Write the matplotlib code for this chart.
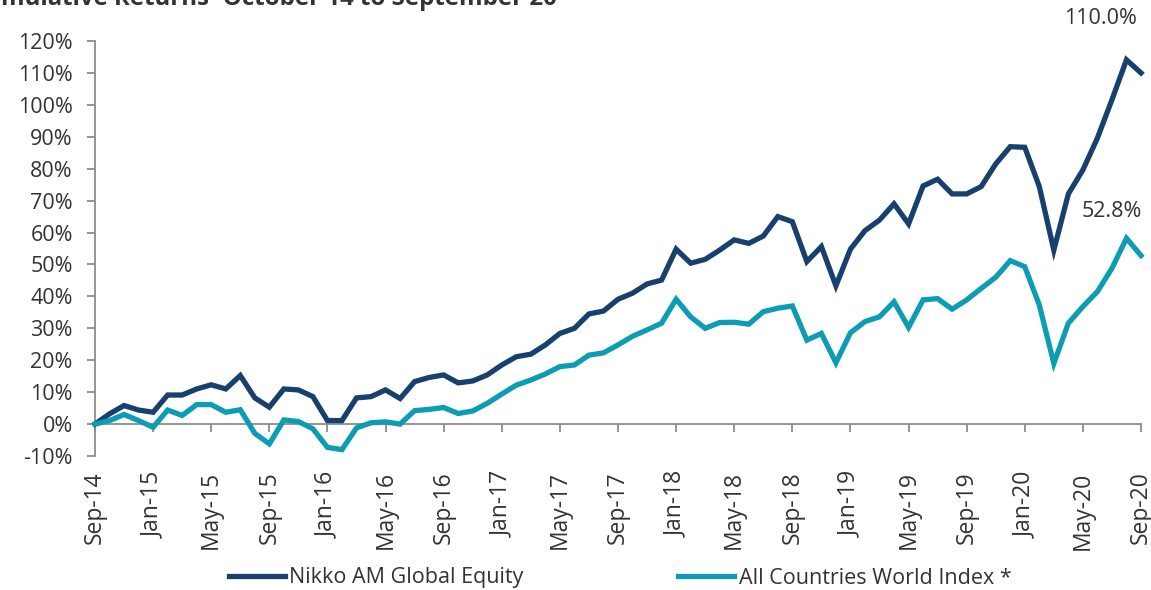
import numpy as np
import pandas as pd
import matplotlib
matplotlib.use("Agg")
import matplotlib.pyplot as plt
from matplotlib.ticker import FixedLocator, FuncFormatter

plt.rcParams['font.family'] = ['Open Sans', 'DejaVu Sans']

months = pd.date_range("2014-09-01", "2020-09-01", freq="MS")
month_labels = [d.strftime("%b-%y") for d in months]

nikko = [0.0, 3.2, 5.8, 4.4, 3.7, 9.1, 9.1, 11.0, 12.3, 11.0, 15.2, 8.2, 5.3,
         11.0, 10.7, 8.6, 1.1, 1.1, 8.2, 8.6, 10.7, 8.0, 13.3, 14.6, 15.4,
         12.9, 13.5, 15.4, 18.5, 21.1, 21.9, 24.8, 28.4, 30.0, 34.5, 35.4,
         39.1, 41.0, 43.9, 45.1, 54.8, 50.4, 51.6, 54.5, 57.7, 56.6, 58.9,
         65.0, 63.4, 50.9, 55.6, 43.3, 54.8, 60.6, 63.9, 69.0, 62.7, 74.6,
         76.7, 72.1, 72.1, 74.4, 81.5, 86.9, 86.7, 74.4, 54.5, 72.1, 79.6,
         89.6, 101.6, 114.1, 110.0]
acwi = [0.0, 1.1, 3.0, 1.1, -1.0, 4.4, 2.7, 6.1, 6.1, 3.7, 4.5, -2.9, -6.2,
        1.3, 0.8, -1.5, -7.3, -8.0, -1.2, 0.4, 0.7, 0.0, 4.2, 4.6, 5.2,
        3.3, 4.1, 6.5, 9.4, 12.2, 13.8, 15.7, 18.0, 18.5, 21.6, 22.3,
        24.8, 27.5, 29.5, 31.6, 39.1, 33.6, 30.0, 31.8, 31.9, 31.3, 35.2,
        36.3, 37.0, 26.3, 28.4, 19.2, 28.6, 32.1, 33.6, 38.3, 30.3, 38.9,
        39.3, 36.0, 38.9, 42.5, 46.0, 51.2, 49.3, 37.3, 19.0, 31.6, 36.8,
        41.5, 48.8, 58.2, 52.8]
series_names = ["Nikko AM Global Equity", "All Countries World Index *"]
yticks = list(range(-10, 121, 10))

navy = "#17406E"
teal = "#0C9DB5"
grey = "#8C8C8C"
txt = "#333333"

fig = plt.figure(figsize=(11.51, 5.90), dpi=100)
ax = fig.add_axes([95/1151, 1 - 456/590, (1141-95)/1151, (456-41)/590])

x = np.arange(len(months))
l1, = ax.plot(x, nikko, color=navy, lw=3.8, solid_joinstyle='miter', clip_on=False, zorder=3)
l2, = ax.plot(x, acwi, color=teal, lw=3.8, solid_joinstyle='miter', clip_on=False, zorder=3)

ax.set_xlim(0, len(months) - 1)
ax.set_ylim(-10, 120)

for s in ["top", "right", "bottom"]:
    ax.spines[s].set_visible(False)
ax.spines["left"].set_color(grey)
ax.spines["left"].set_linewidth(1.3)

ax.yaxis.set_major_locator(FixedLocator(yticks))
ax.yaxis.set_major_formatter(FuncFormatter(lambda v, p: f"{v:.0f}%"))
ax.tick_params(axis="y", direction="out", length=6, width=1.3, color=grey,
               labelsize=15.5, labelcolor=txt, pad=10)

tick_idx = list(range(0, len(months), 4))
ax.set_xticks(tick_idx)
ax.set_xticklabels([month_labels[i] for i in tick_idx], rotation=90, va="top", ha="center")
ax.tick_params(axis="x", length=0, labelsize=16.5, labelcolor=txt, pad=11)

# zero line with ticks
sec = ax.secondary_xaxis(10/130)
sec.set_xticks(tick_idx)
sec.set_xticklabels([])
sec.spines["bottom"].set_color(grey)
sec.spines["bottom"].set_linewidth(1.3)
sec.tick_params(axis="x", direction="out", length=6, width=1.3, color=grey)

ax.annotate(f"{nikko[-1]:.1f}%", xy=(x[-1], nikko[-1]), xytext=(-29, 39),
            textcoords="offset points", ha="center", va="center",
            fontsize=15.5, color=txt, annotation_clip=False)
ax.annotate(f"{acwi[-1]:.1f}%", xy=(x[-1], acwi[-1]), xytext=(-21, 32),
            textcoords="offset points", ha="center", va="center",
            fontsize=15.5, color=txt, annotation_clip=False)

fig.text(557/1151, 1 - 5/590, "Cumulative Returns- October 14 to September 20",
         ha="right", va="baseline", fontsize=17.3, fontweight="bold", color=txt)

fig.legend([l1, l2], series_names, loc="center", bbox_to_anchor=(620/1151, 1 - 578/590),
           ncol=2, frameon=False, fontsize=15.5, handlelength=2.6, handletextpad=0.2,
           columnspacing=7.2, labelcolor=txt)

fig.savefig("out.png", dpi=100)
